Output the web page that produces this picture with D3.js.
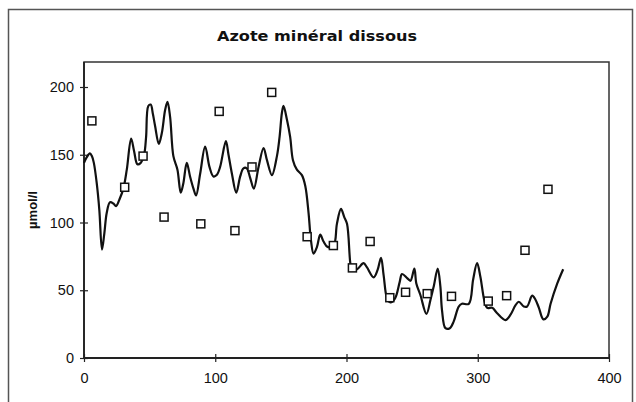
<!DOCTYPE html>
<html>
<head>
<meta charset="utf-8">
<script src="https://cdn.jsdelivr.net/npm/d3@7"></script>
<style>
  html, body { margin: 0; padding: 0; background: #fff; }
  svg { display: block; }
</style>
</head>
<body>
<svg id="chart" width="636" height="402"></svg>
<script>
// Daily dissolved mineral nitrogen (continuous record), µmol/l
const lineDays = [0, 2, 4.5, 6, 7.5, 9.7, 11.7, 13.7, 15.5, 17.3, 19.8, 22.4, 24.4, 27, 30, 32.6, 35.9, 38.1, 40.7, 43.2,
  45.8, 47.3, 49, 50.8, 52.5, 54.2, 57, 59.3, 61.8, 63.6, 65.6, 68.1, 71.2, 73.7, 75.7, 78.3, 80.8, 83.4, 85.4, 88.5,
  92.3, 95.6, 98.6, 101.1, 103.7, 108.1, 110.1, 112.7, 116, 119, 121.5, 124, 126.6, 129.4, 133, 136.8, 139.4, 143.2, 147, 149,
  150.8, 152, 154.6, 157.1, 159.2, 162.2, 166, 168.6, 171.1, 172.9, 174.9, 177.5, 180, 182.5, 185.6, 190.2, 192.7, 195.8, 198.3, 200.4,
  202.9, 204, 208, 213, 215.5, 220.7, 223.7, 226.3, 228.3, 230.9, 233.4, 237, 240.5, 242.3, 246.2, 248.7, 251.7, 253.2, 256.3, 260.9,
  264, 266.5, 269.5, 271.5, 272.8, 275.4, 278.7, 281.7, 285.5, 288, 293.2, 296.5, 299.5, 302, 305.1, 307.2, 311, 314.8, 321.1, 325,
  328.8, 331.3, 335.1, 337.6, 341.5, 344, 346.6, 350, 353, 355.5, 360.6, 365.1];
const lineValues = [144, 148, 151, 149, 144, 129, 109, 80, 92, 107, 115, 114, 112, 117, 125, 139, 162, 153, 143, 144,
  150, 163, 186, 187, 180, 171, 158, 166, 183, 189, 178, 149, 139, 122, 129, 144, 134, 125, 120, 136,
  156, 141, 134, 135, 141, 160, 150, 136, 122, 134, 140, 140, 133, 125, 141, 155, 146, 135, 149, 163,
  181, 186, 176, 163, 146, 139, 135, 127, 107, 87, 77, 82, 91, 86, 82, 83, 99, 110, 104, 99,
  70, 65, 65.5, 70, 67, 59.5, 65, 74, 61, 44, 41, 44, 56, 62, 59, 57, 66, 55, 46.5, 32.5,
  43, 53, 66, 53, 35, 22, 22, 27, 38, 40, 40, 58, 70, 60, 42, 37, 37, 33, 28, 32,
  39, 41.5, 38, 38, 46, 43, 37, 28.5, 30.5, 40, 55, 65.5];

// Discrete samples
const sampleDays = [6, 31, 45, 61, 89, 103, 115, 128, 143, 170, 190, 204.5, 218, 233, 245, 261.5, 280, 308, 322, 336, 353.5];
const sampleValues = [175, 126, 149, 104, 99, 182, 94, 141, 196, 89.5, 83, 66.5, 86, 44.5, 48.5, 47.5, 45.5, 42, 46, 79.5, 124.5];

const xTicks = [0, 100, 200, 300, 400];
const yTicks = [0, 50, 100, 150, 200];

const title = "Azote minéral dissous";
const yTitle = "µmol/l";

const svg = d3.select("#chart");

// Plot area
const plotLeft = 84, plotRight = 609, plotTop = 62, plotBottom = 358;

const x = d3.scaleLinear().domain([0, 400]).range([plotLeft, plotRight]);
const y = d3.scaleLinear().domain([0, 200]).range([plotBottom, 87]);

// Outer chart frame
svg.append("rect")
  .attr("x", 8.5).attr("y", 9.5)
  .attr("width", 624).attr("height", 420)
  .attr("fill", "none")
  .attr("stroke", "#555")
  .attr("stroke-width", 1.5);

// Title
svg.append("text")
  .attr("x", 317).attr("y", 41)
  .attr("text-anchor", "middle")
  .attr("font-family", "'DejaVu Sans', Arial, sans-serif")
  .attr("font-weight", "bold")
  .attr("font-size", 14)
  .attr("textLength", 200)
  .attr("lengthAdjust", "spacingAndGlyphs")
  .attr("fill", "#111")
  .text(title);

// Plot box
svg.append("rect")
  .attr("x", plotLeft).attr("y", plotTop)
  .attr("width", plotRight - plotLeft).attr("height", plotBottom - plotTop)
  .attr("fill", "none")
  .attr("stroke", "#333")
  .attr("stroke-width", 1.5);

// Axes with ticks crossing the axis line
const yAxis = d3.axisLeft(y).tickValues(yTicks).tickSize(4).tickPadding(7);
const gy = svg.append("g").attr("transform", `translate(${plotLeft},0)`).call(yAxis);
gy.select(".domain").remove();
gy.selectAll(".tick line").attr("x2", 4).attr("x1", -4).attr("stroke", "#222").attr("stroke-width", 1.2);
gy.selectAll(".tick text")
  .attr("x", -10)
  .attr("font-family", "'Liberation Sans', Arial, sans-serif")
  .attr("font-size", 14.5)
  .attr("fill", "#111");

const xAxis = d3.axisBottom(x).tickValues(xTicks).tickSize(4).tickPadding(6);
const gx = svg.append("g").attr("transform", `translate(0,${plotBottom})`).call(xAxis);
gx.select(".domain").remove();
gx.selectAll(".tick line").attr("y1", -4).attr("y2", 4).attr("stroke", "#222").attr("stroke-width", 1.2);
gx.selectAll(".tick text")
  .attr("y", 15)
  .attr("font-family", "'Liberation Sans', Arial, sans-serif")
  .attr("font-size", 14.5)
  .attr("fill", "#111");

// Axis lines (darker)
svg.append("line").attr("x1", plotLeft).attr("x2", plotLeft).attr("y1", plotTop).attr("y2", plotBottom)
  .attr("stroke", "#222").attr("stroke-width", 1.8);
svg.append("line").attr("x1", plotLeft).attr("x2", plotRight).attr("y1", plotBottom).attr("y2", plotBottom)
  .attr("stroke", "#222").attr("stroke-width", 1.8);

// Y-axis title
svg.append("text")
  .attr("transform", `translate(37,210) rotate(-90)`)
  .attr("text-anchor", "middle")
  .attr("font-family", "'Liberation Sans', Arial, sans-serif")
  .attr("font-weight", "bold")
  .attr("font-size", 13)
  .attr("fill", "#111")
  .text(yTitle);

// Continuous record
const series = lineDays.map((d, i) => [d, lineValues[i]]);
svg.append("path")
  .datum(series)
  .attr("fill", "none")
  .attr("stroke", "#111")
  .attr("stroke-width", 2.2)
  .attr("stroke-linejoin", "round")
  .attr("d", d3.line().x(d => x(d[0])).y(d => y(d[1])).curve(d3.curveCatmullRom.alpha(0.5)));

// Sample markers
const samples = sampleDays.map((d, i) => [d, sampleValues[i]]);
const s = 8;
svg.append("g").selectAll("rect")
  .data(samples)
  .join("rect")
  .attr("x", d => x(d[0]) - s / 2)
  .attr("y", d => y(d[1]) - s / 2)
  .attr("width", s).attr("height", s)
  .attr("fill", "#fff")
  .attr("stroke", "#111")
  .attr("stroke-width", 1.5);
</script>
</body>
</html>
